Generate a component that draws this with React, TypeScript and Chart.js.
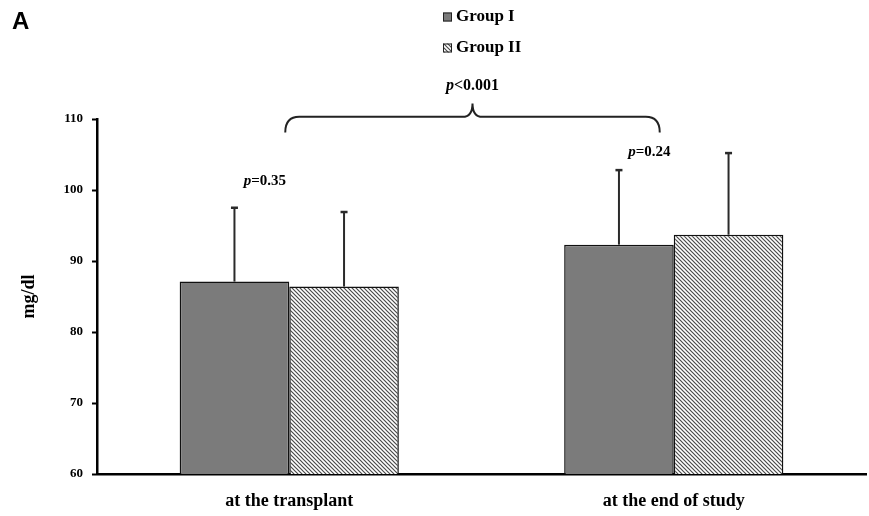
import React, { useEffect, useRef } from "react";
import { Chart, registerables } from "chart.js";

Chart.register(...registerables);

const categories = ["at the transplant", "at the end of study"];
const seriesNames = ["Group I", "Group II"];
const groupIMeans = [87.1, 92.3];
const groupIIMeans = [86.4, 93.7];
const groupISD = [10.4, 10.5];
const groupIISD = [10.5, 11.5];
const yMin = 60;
const yMax = 110;
const yStep = 10;
const pairPValues = ["=0.35", "=0.24"];
const pairPLabelLevels = [101.3, 105.4];
const overallPValue = "<0.001";
const panelLabel = "A";
const yAxisTitle = "mg/dl";

const SERIF = "'Liberation Serif', 'Times New Roman', serif";
const GRAY = "#7b7b7b";

function makeHatch(): CanvasPattern | string {
  const s = 4;
  const c = document.createElement("canvas");
  c.width = s;
  c.height = s;
  const g = c.getContext("2d");
  if (!g) return "#bbb";
  g.fillStyle = "#fff";
  g.fillRect(0, 0, s, s);
  g.strokeStyle = "#4a4a4a";
  g.lineWidth = 1.2;
  g.beginPath();
  g.moveTo(-1, -1);
  g.lineTo(s + 1, s + 1);
  g.moveTo(-1, s - 1);
  g.lineTo(1, s + 1);
  g.moveTo(s - 1, -1);
  g.lineTo(s + 1, 1);
  g.stroke();
  const p = g.createPattern(c, "repeat");
  return p || "#bbb";
}

function drawP(ctx: CanvasRenderingContext2D, rest: string, cx: number, cy: number, size: number) {
  const fi = `italic bold ${size}px ${SERIF}`;
  const fb = `bold ${size}px ${SERIF}`;
  ctx.font = fi;
  const w1 = ctx.measureText("p").width;
  ctx.font = fb;
  const w2 = ctx.measureText(rest).width;
  const x0 = cx - (w1 + w2) / 2;
  ctx.textBaseline = "middle";
  ctx.textAlign = "left";
  ctx.fillStyle = "#000";
  ctx.font = fi;
  ctx.fillText("p", x0, cy);
  ctx.font = fb;
  ctx.fillText(rest, x0 + w1, cy);
}

export default function App() {
  const ref = useRef<HTMLCanvasElement | null>(null);

  useEffect(() => {
    if (!ref.current) return;
    const hatch = makeHatch();
    const sds = [groupISD, groupIISD];

    const errorBars = {
      id: "errorBars",
      afterDatasetsDraw(chart: any) {
        const ctx = chart.ctx;
        const y = chart.scales.y;
        ctx.save();
        chart.data.datasets.forEach((ds: any, di: number) => {
          const meta = chart.getDatasetMeta(di);
          meta.data.forEach((bar: any, i: number) => {
            const top = y.getPixelForValue(ds.data[i] + sds[di][i]);
            ctx.strokeStyle = "#2a2a2a";
            ctx.lineWidth = 2;
            ctx.beginPath();
            ctx.moveTo(bar.x, bar.y);
            ctx.lineTo(bar.x, top);
            ctx.stroke();
            ctx.lineWidth = 2.5;
            ctx.beginPath();
            ctx.moveTo(bar.x - 3.5, top);
            ctx.lineTo(bar.x + 3.5, top);
            ctx.stroke();
          });
        });
        ctx.restore();
      },
    };

    const annotations = {
      id: "annotations",
      afterDraw(chart: any) {
        const ctx = chart.ctx;
        const x = chart.scales.x;
        const y = chart.scales.y;
        ctx.save();

        // panel label
        ctx.fillStyle = "#000";
        ctx.font = "bold 24px 'Liberation Sans', Arial, sans-serif";
        ctx.textAlign = "left";
        ctx.textBaseline = "middle";
        ctx.fillText(panelLabel, 12, 22);

        // legend
        const lx = 443;
        const rows = [17, 48];
        seriesNames.forEach((name, i) => {
          const cy = rows[i];
          ctx.fillStyle = i === 0 ? GRAY : (hatch as any);
          ctx.fillRect(lx, cy - 4.5, 9, 9);
          ctx.strokeStyle = "#222";
          ctx.lineWidth = 1;
          ctx.strokeRect(lx + 0.5, cy - 4, 8, 8);
          ctx.fillStyle = "#000";
          ctx.font = `bold 17px ${SERIF}`;
          ctx.textAlign = "left";
          ctx.textBaseline = "middle";
          ctx.fillText(name, lx + 13, cy);
        });

        // pairwise p-values above group I error bars
        const m0 = chart.getDatasetMeta(0);
        pairPValues.forEach((pv, i) => {
          const bar: any = m0.data[i];
          const cx = (bar.x + x.getPixelForValue(i)) / 2 + 3;
          drawP(ctx, pv, cx, y.getPixelForValue(pairPLabelLevels[i]), 15);
        });

        // brace
        const left = x.getPixelForValue(0) - 4;
        const right = x.getPixelForValue(1) - 14;
        const mid = (left + right) / 2;
        const yLine = y.getPixelForValue(yMax + 0.3);
        const yEnd = y.getPixelForValue(yMax - 1.9);
        const yPeak = y.getPixelForValue(yMax + 2.2);
        const r = 14;
        ctx.strokeStyle = "#222";
        ctx.lineWidth = 2;
        ctx.beginPath();
        ctx.moveTo(left, yEnd);
        ctx.quadraticCurveTo(left, yLine, left + r, yLine);
        ctx.lineTo(mid - 10, yLine);
        ctx.quadraticCurveTo(mid, yLine, mid, yPeak);
        ctx.quadraticCurveTo(mid, yLine, mid + 10, yLine);
        ctx.lineTo(right - r, yLine);
        ctx.quadraticCurveTo(right, yLine, right, yEnd);
        ctx.stroke();

        drawP(ctx, overallPValue, mid, yPeak - 18, 16);

        ctx.restore();
      },
    };

    const chart = new Chart(ref.current, {
      type: "bar",
      data: {
        labels: categories,
        datasets: [
          {
            label: seriesNames[0],
            data: groupIMeans,
            backgroundColor: GRAY,
            borderColor: "#111",
            borderWidth: 1.5,
            categoryPercentage: 0.57,
            barPercentage: 1.0,
          },
          {
            label: seriesNames[1],
            data: groupIIMeans,
            backgroundColor: hatch as any,
            borderColor: "#111",
            borderWidth: 1.5,
            categoryPercentage: 0.57,
            barPercentage: 1.0,
          },
        ],
      },
      options: {
        responsive: false,
        animation: false,
        layout: { padding: { top: 119, right: 3, left: 0, bottom: 0 } },
        plugins: {
          legend: { display: false },
          tooltip: { enabled: false },
          title: { display: false },
        },
        scales: {
          x: {
            type: "category",
            offset: true,
            grid: { display: false, drawTicks: false },
            border: { display: true, color: "#000", width: 2.5 },
            ticks: {
              color: "#000",
              padding: 17,
              font: { family: SERIF, weight: "bold", size: 18 },
            },
            afterFit: (s: any) => {
              s.height = 42;
            },
          },
          y: {
            min: yMin,
            max: yMax,
            ticks: {
              stepSize: yStep,
              color: "#000",
              padding: 9,
              font: { family: SERIF, weight: "bold", size: 13 },
            },
            grid: {
              drawOnChartArea: false,
              drawTicks: true,
              tickLength: 5,
              tickColor: "#000",
              tickWidth: 2,
            },
            border: { display: true, color: "#000", width: 2.5 },
            title: {
              display: true,
              text: yAxisTitle,
              color: "#000",
              font: { family: SERIF, weight: "bold", size: 18 },
              padding: { top: 19, bottom: 0 },
            },
            afterFit: (s: any) => {
              s.width = 97;
            },
          },
        },
      },
      plugins: [errorBars, annotations],
    } as any);

    return () => chart.destroy();
  }, []);

  return (
    <div style={{ position: "absolute", left: 0, top: 0, width: 869, height: 516, background: "#fff" }}>
      <canvas ref={ref} width={869} height={516} style={{ display: "block" }} />
    </div>
  );
}
